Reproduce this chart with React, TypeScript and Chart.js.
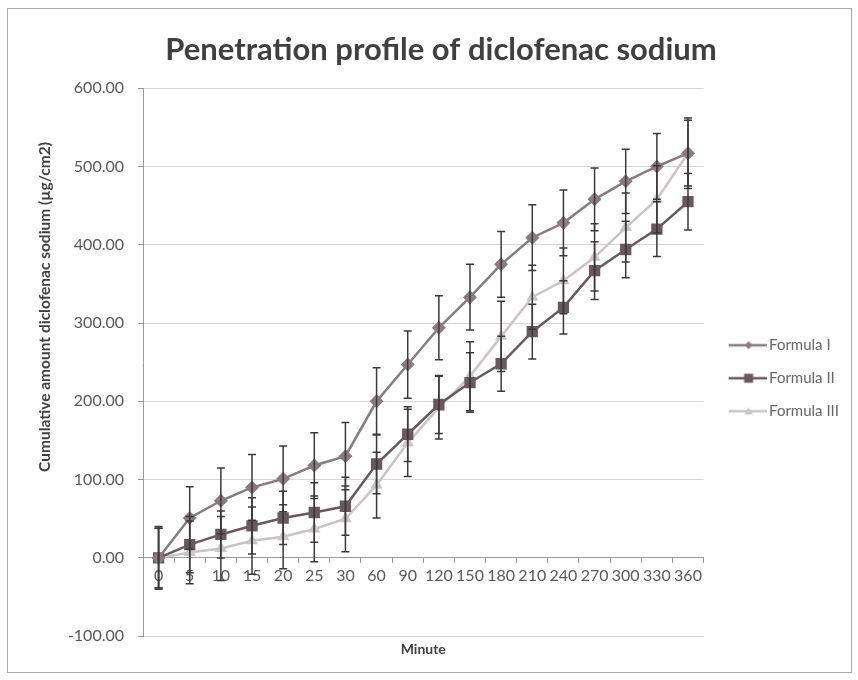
import React, { useEffect, useRef } from 'react';
import { Chart, registerables } from 'chart.js';

Chart.register(...registerables);

const minutes = ['0', '5', '10', '15', '20', '25', '30', '60', '90', '120', '150', '180', '210', '240', '270', '300', '330', '360'];

const formula1 = [0, 51, 73, 90, 101, 118, 130, 200, 247, 294, 333, 375, 409, 428, 458, 481, 500, 517];
const formula1Err = [40, 40, 42, 42, 42, 42, 43, 43, 43, 41, 42, 42, 42, 42, 40, 41, 42, 45];

const formula2 = [0, 17, 30, 41, 51, 58, 66, 120, 158, 196, 224, 248, 289, 320, 367, 394, 420, 455];
const formula2Err = [38, 36, 30, 36, 34, 38, 37, 38, 35, 37, 38, 35, 35, 34, 37, 36, 35, 36];

const formula3 = [0, 7, 12, 22, 27, 37, 50, 93, 147, 192, 232, 283, 333, 354, 384, 422, 458, 517];
const formula3Err = [38, 40, 41, 43, 41, 42, 42, 42, 43, 40, 44, 45, 41, 42, 43, 44, 43, 42];

const seriesNames = ['Formula I', 'Formula II', 'Formula III'];
const seriesColors = ['#8b7a80', '#6b585e', '#cbc4c6'];
const seriesMarkers = ['rectRot', 'rect', 'triangle'];
const markerRadius = [7, 8, 7];

const yTitleText = 'Cumulative amount diclofenac sodium (µg/cm2)';

const FONT = 'Lato, "Open Sans", sans-serif';

function makeLegendIcon(color: string, marker: string, r: number) {
  const c = document.createElement('canvas');
  c.width = 50;
  c.height = 16;
  const g = c.getContext('2d')!;
  g.strokeStyle = color;
  g.lineWidth = 2.5;
  g.beginPath();
  g.moveTo(12, 8);
  g.lineTo(50, 8);
  g.stroke();
  g.fillStyle = color;
  const cx = 32;
  const s = r * Math.SQRT1_2 * 0.8;
  g.beginPath();
  if (marker === 'rect') {
    g.rect(cx - s, 8 - s, 2 * s, 2 * s);
  } else if (marker === 'rectRot') {
    g.moveTo(cx - s, 8);
    g.lineTo(cx, 8 + s);
    g.lineTo(cx + s, 8);
    g.lineTo(cx, 8 - s);
    g.closePath();
  } else {
    g.moveTo(cx - s, 8 + s * 0.8);
    g.lineTo(cx + s, 8 + s * 0.8);
    g.lineTo(cx, 8 - s);
    g.closePath();
  }
  g.fill();
  return c;
}

const errorBarPlugin = {
  id: 'errorBars',
  afterDatasetsDraw(chart: any) {
    const { ctx } = chart;
    const yScale = chart.scales.y;
    ctx.save();
    ctx.strokeStyle = '#3a3a3a';
    ctx.lineWidth = 1.5;
    chart.data.datasets.forEach((ds: any, di: number) => {
      const meta = chart.getDatasetMeta(di);
      meta.data.forEach((pt: any, i: number) => {
        const v = ds.data[i];
        const e = ds.errors[i];
        const yt = yScale.getPixelForValue(v + e);
        const yb = yScale.getPixelForValue(v - e);
        const x = pt.x;
        ctx.beginPath();
        ctx.moveTo(x, yt);
        ctx.lineTo(x, yb);
        ctx.moveTo(x - 4, yt);
        ctx.lineTo(x + 4, yt);
        ctx.moveTo(x - 4, yb);
        ctx.lineTo(x + 4, yb);
        ctx.stroke();
      });
    });
    ctx.restore();
  },
};

const framePlugin = {
  id: 'frame',
  beforeDraw(chart: any) {
    const { ctx, width, height } = chart;
    ctx.save();
    ctx.fillStyle = '#ffffff';
    ctx.fillRect(0, 0, width, height);
    ctx.strokeStyle = '#a8a8a8';
    ctx.lineWidth = 1;
    ctx.strokeRect(7.5, 8.5, 844, 664);
    ctx.restore();
  },
  afterDraw(chart: any) {
    const { ctx } = chart;
    ctx.save();
    ctx.translate(45, 307);
    ctx.rotate(-Math.PI / 2);
    ctx.fillStyle = '#404040';
    ctx.font = 'bold 15.5px ' + FONT;
    ctx.textAlign = 'center';
    ctx.textBaseline = 'middle';
    ctx.fillText(yTitleText, 0, 0);
    ctx.restore();
  },
};

export default function App() {
  const ref = useRef<HTMLCanvasElement | null>(null);

  useEffect(() => {
    if (!ref.current) return;
    const values = [formula1, formula2, formula3];
    const errors = [formula1Err, formula2Err, formula3Err];
    const icons = seriesNames.map((_, i) => makeLegendIcon(seriesColors[i], seriesMarkers[i], markerRadius[i]));

    const chart = new Chart(ref.current, {
      type: 'line',
      data: {
        labels: minutes,
        datasets: seriesNames.map((name, i) => ({
          label: name,
          data: values[i],
          errors: errors[i],
          borderColor: seriesColors[i],
          backgroundColor: seriesColors[i],
          borderWidth: 2.5,
          pointStyle: seriesMarkers[i],
          pointRadius: markerRadius[i],
          pointBorderWidth: 0,
          pointBackgroundColor: seriesColors[i],
          tension: 0,
        })) as any,
      },
      options: {
        animation: false,
        responsive: false,
        layout: { padding: { left: 33, right: 9, top: 0, bottom: 22 } },
        plugins: {
          title: {
            display: true,
            text: 'Penetration profile of diclofenac sodium',
            color: '#404040',
            font: { family: FONT, size: 31, weight: 'bold' },
            padding: { top: 31, bottom: 20 },
          },
          legend: {
            position: 'right',
            title: {
              display: true,
              text: ' ',
              font: { size: 12 },
              padding: { top: 0, bottom: 84 },
            },
            labels: {
              usePointStyle: true,
              pointStyleWidth: 40,
              padding: 18,
              color: '#404040',
              font: { family: FONT, size: 15 },
              generateLabels: () =>
                seriesNames.map((n, i) => ({
                  text: n,
                  pointStyle: icons[i],
                  fillStyle: seriesColors[i],
                  strokeStyle: seriesColors[i],
                  lineWidth: 0,
                  hidden: false,
                  datasetIndex: i,
                })) as any,
            },
          },
          tooltip: { enabled: false },
        },
        scales: {
          x: {
            type: 'category',
            position: { y: 0 } as any,
            offset: true,
            grid: {
              display: true,
              drawOnChartArea: false,
              drawTicks: true,
              tickLength: 5,
              offset: true,
              color: '#9a9a9a',
            },
            border: { display: true, color: '#9a9a9a', width: 1 },
            ticks: {
              autoSkip: false,
              maxRotation: 0,
              minRotation: 0,
              padding: 3,
              color: '#595959',
              font: { family: FONT, size: 16 },
            },
          },
          x2: {
            type: 'category',
            position: 'bottom',
            grid: { display: false },
            border: { display: false },
            ticks: { display: false },
            title: {
              display: true,
              text: 'Minute',
              color: '#404040',
              font: { family: FONT, size: 14, weight: 'bold' },
              padding: { top: -3, bottom: 0 },
            },
          },
          y: {
            min: -100,
            max: 600,
            ticks: {
              stepSize: 100,
              padding: 14,
              color: '#595959',
              font: { family: FONT, size: 16 },
              callback: (v: any) => Number(v).toFixed(2),
            },
            grid: { color: '#d6d6d6', tickLength: 5, tickColor: '#9a9a9a' },
            border: { color: '#9a9a9a' },
            title: { display: false },
            afterFit: (scale: any) => {
              scale.width = 110;
            },
          },
        },
      } as any,
      plugins: [framePlugin, errorBarPlugin],
    });
    return () => chart.destroy();
  }, []);

  return (
    <div style={{ position: 'absolute', left: 0, top: 0, width: 858, height: 680 }}>
      <canvas ref={ref} width={858} height={680} style={{ width: 858, height: 680, display: 'block' }} />
    </div>
  );
}
